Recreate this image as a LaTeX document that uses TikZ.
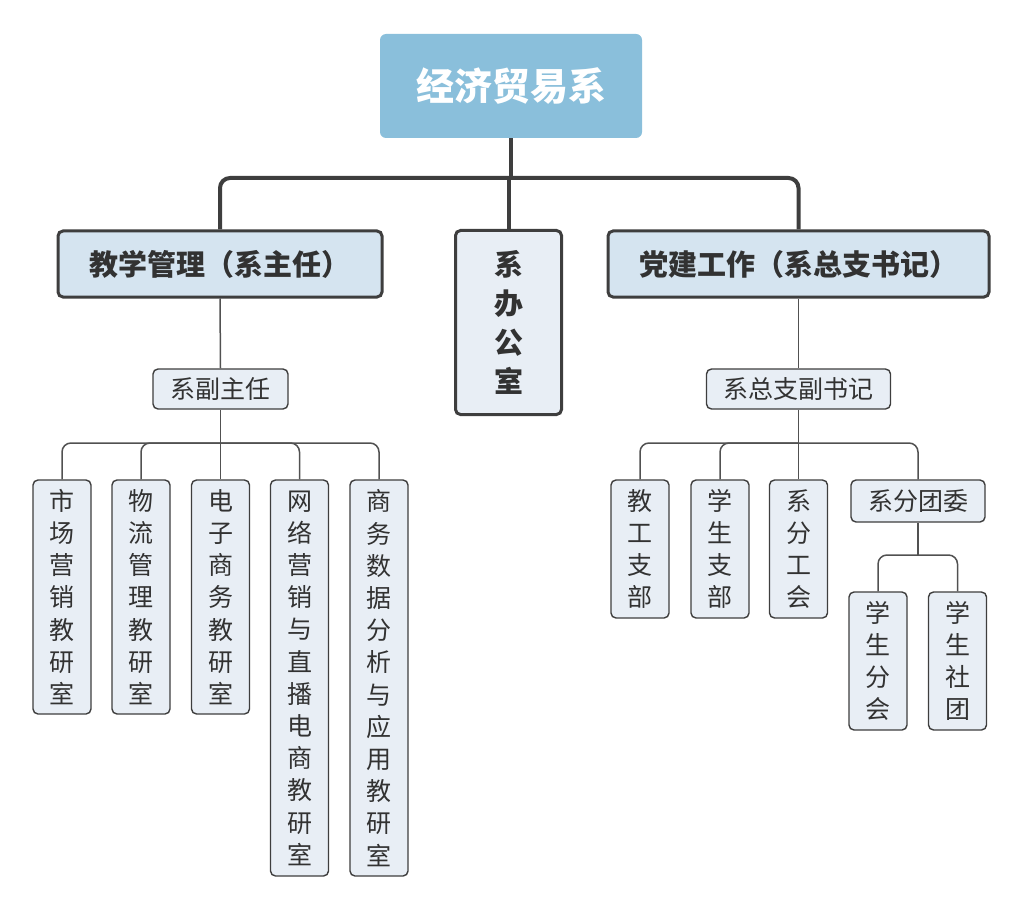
\documentclass[tikz,border=0pt]{standalone}
\usepackage{fontspec}
\newfontfamily\cjk{Noto Sans CJK SC}
\definecolor{rootfill}{RGB}{138,191,219}
\definecolor{midfill}{RGB}{213,228,240}
\definecolor{leaffill}{RGB}{232,238,245}
\definecolor{edge}{RGB}{62,62,62}
\definecolor{txt}{RGB}{50,50,50}
\tikzset{
  rootbox/.style={fill=rootfill, draw=none, rounded corners=6pt, inner sep=0pt,
    text=white, font=\cjk\bfseries\fontsize{38}{44}\selectfont},
  headbox/.style={fill=midfill, draw=edge, line width=3pt, rounded corners=5pt, inner sep=0pt,
    text=txt, align=center, font=\cjk\bfseries\fontsize{29}{39}\selectfont},
  subbox/.style={fill=leaffill, draw=edge, line width=1.4pt, rounded corners=5pt, inner sep=0pt,
    text=txt, align=center, font=\cjk\fontsize{25}{32.2}\selectfont},
  topline/.style={draw=edge, line width=4pt},
  lowline/.style={draw=edge!90, line width=1.5pt},
}
\begin{document}
\begin{tikzpicture}[x=1pt,y=-1pt]
\useasboundingbox (0,0) rectangle (1024,909);
% root
\node[rootbox, minimum width=262pt, minimum height=104pt] (root) at (511,86) {经济贸易系};
% level 2
\node[headbox, minimum width=324pt, minimum height=66pt] (teach) at (220,264) {教学管理（系主任）};
\node[headbox, fill=leaffill, minimum width=106pt, minimum height=184pt] (office) at (508.5,322.5) {系\\办\\公\\室};
\node[headbox, minimum width=381pt, minimum height=66pt] (party) at (798.5,264) {党建工作（系总支书记）};
% level 3
\node[subbox, minimum width=135pt, minimum height=40pt] (vice) at (220.5,389) {系副主任};
\node[subbox, minimum width=184pt, minimum height=40pt] (pvice) at (798.5,389) {系总支副书记};
% left leaves
\node[subbox, minimum width=58pt, minimum height=234pt] (l1) at (62,597) {市\\场\\营\\销\\教\\研\\室};
\node[subbox, minimum width=58pt, minimum height=234pt] (l2) at (141,597) {物\\流\\管\\理\\教\\研\\室};
\node[subbox, minimum width=58pt, minimum height=234pt] (l3) at (220.5,597) {电\\子\\商\\务\\教\\研\\室};
\node[subbox, minimum width=58pt, minimum height=396pt] (l4) at (299.5,678) {网\\络\\营\\销\\与\\直\\播\\电\\商\\教\\研\\室};
\node[subbox, minimum width=58pt, minimum height=396pt] (l5) at (379,678) {商\\务\\数\\据\\分\\析\\与\\应\\用\\教\\研\\室};
% right leaves
\node[subbox, minimum width=58pt, minimum height=138pt] (r1) at (640,549) {教\\工\\支\\部};
\node[subbox, minimum width=58pt, minimum height=138pt] (r2) at (720,549) {学\\生\\支\\部};
\node[subbox, minimum width=58pt, minimum height=138pt] (r3) at (798.5,549) {系\\分\\工\\会};
\node[subbox, minimum width=134pt, minimum height=42pt] (r4) at (918,501) {系分团委};
\node[subbox, minimum width=58pt, minimum height=138pt] (r5) at (878,661) {学\\生\\分\\会};
\node[subbox, minimum width=58pt, minimum height=138pt] (r6) at (957.5,661) {学\\生\\社\\团};
% top connectors
\coordinate (bt) at (511,178);
\draw[topline] (root.south) -- (bt);
\draw[topline, rounded corners=10pt] (bt) -| (teach.north);
\draw[topline, rounded corners=10pt] (bt) -| (party.north);
\draw[topline] (office.north |- bt) -- (office.north);
% teaching branch
\draw[lowline] (teach.south) -- (vice.north);
\coordinate (bl) at (220.5,443);
\draw[lowline] (vice.south) -- (l3.north);
\foreach \c in {l1,l2,l4,l5}{
  \draw[lowline, rounded corners=9pt] (bl) -| (\c.north);
}
% party branch
\draw[lowline] (party.south) -- (pvice.north);
\coordinate (br) at (798.5,443);
\draw[lowline] (pvice.south) -- (r3.north);
\foreach \c in {r1,r2,r4}{
  \draw[lowline, rounded corners=9pt] (br) -| (\c.north);
}
\coordinate (bg) at (918,555);
\draw[lowline] (r4.south) -- (bg);
\foreach \c in {r5,r6}{
  \draw[lowline, rounded corners=9pt] (bg) -| (\c.north);
}
\end{tikzpicture}
\end{document}
